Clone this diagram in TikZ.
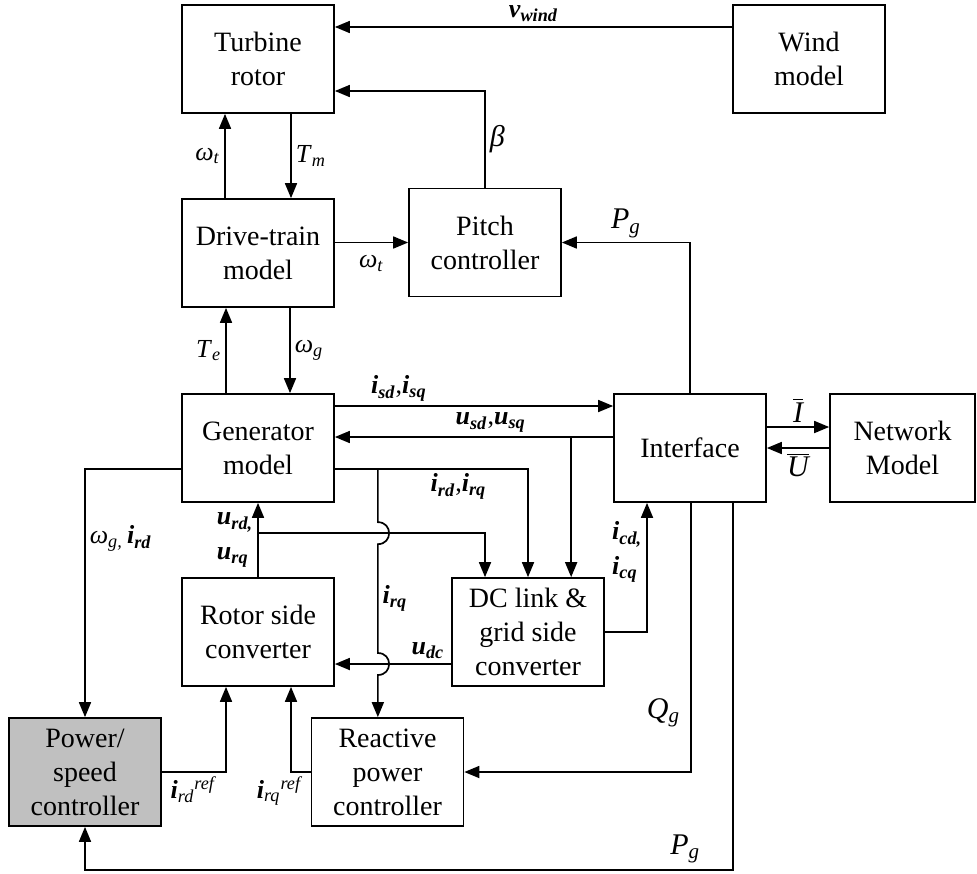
\documentclass[tikz,border=0pt]{standalone}
\usepackage{fontspec}
\setmainfont{Liberation Serif}
\usetikzlibrary{arrows.meta,positioning,calc}

\definecolor{ctrlgray}{RGB}{192,192,192}
\newcommand{\sig}[2]{\textit{#1}\textsubscript{\textit{#2}}}
\newcommand{\bsig}[2]{\textbf{\textit{#1}\textsubscript{\textit{#2}}}}
\newcommand{\refsig}[2]{\textbf{\textit{#1}}\textsubscript{\textit{#2}}\textsuperscript{\textit{ref}}}

\tikzset{
  blk/.style={draw, line width=0.85pt, minimum width=76pt, minimum height=54pt,
    inner sep=0pt, align=center, font=\fontsize{14}{17}\selectfont},
  arr/.style={-{Triangle[length=7.5pt,width=6pt]}, line width=0.85pt},
  lab/.style={font=\fontsize{13}{15}\selectfont, inner sep=2pt},
  twolab/.style={font=\fontsize{13}{17.5}\selectfont, inner sep=2pt, align=left},
  biglab/.style={font=\fontsize{15}{17}\selectfont, inner sep=2pt}
}

\begin{document}
\begin{tikzpicture}[x=0.5pt, y=-0.5pt]
    \useasboundingbox (0,0) rectangle (977,873);

    % Blocks
    \node[blk] (turb) at (258,59) {Turbine\\rotor};
    \node[blk] (wind) at (809,59) {Wind\\model};
    \node[blk] (drive) at (258,253) {Drive-train\\model};
    \node[blk] (pitch) at (485,242.5) {Pitch\\controller};
    \node[blk] (gen) at (258,448) {Generator\\model};
    \node[blk] (intf) at (690,448) {Interface};
    \node[blk, minimum width=72.5pt] (net) at (902.5,448) {Network\\Model};
    \node[blk] (rsc) at (258,632) {Rotor side\\converter};
    \node[blk] (dcl) at (528,632) {DC link \&\\grid side\\converter};
    \node[blk, fill=ctrlgray] (psc) at (85,772) {Power/\\speed\\controller};
    \node[blk] (rpc) at (387.5,772) {Reactive\\power\\controller};

    % Mechanical side
    \draw[arr] ([yshift=16pt]wind.west) -- node[lab, above]{\bsig{v}{wind}} ([yshift=16pt]turb.east);
    \draw[arr] (pitch.north) |- node[biglab, pos=0.25, right]{\textit{β}} ([yshift=-16pt]turb.east);
    \draw[arr] ([xshift=-16.5pt]drive.north) -- node[lab, left]{\sig{ω}{t}} ([xshift=-16.5pt]turb.south);
    \draw[arr] ([xshift=16.5pt]turb.south) -- node[lab, right]{\sig{T}{m}} ([xshift=16.5pt]drive.north);
    \draw[arr] (drive.east |- pitch.west) -- node[lab, below, yshift=-4pt]{\sig{ω}{t}} (pitch.west);
    \draw[arr] (intf.north) |- node[biglab, pos=0.75, above]{\sig{P}{g}} (pitch.east);
    \draw[arr] ([xshift=-16pt]gen.north) -- node[lab, left]{\sig{T}{e}} ([xshift=-16pt]drive.south);
    \draw[arr] ([xshift=16pt]drive.south) -- node[lab, right]{\sig{ω}{g}} ([xshift=16pt]gen.north);

    % Stator and network
    \draw[arr] ([yshift=21pt]gen.east) -- node[lab, above, pos=0.23]{\bsig{i}{sd},\bsig{i}{sq}} ([yshift=21pt]intf.west);
    \coordinate (usdj) at ([xshift=-21pt,yshift=5.5pt]intf.west);
    \draw[arr] ([yshift=5.5pt]intf.west) -- node[lab, above, pos=0.44]{\bsig{u}{sd},\bsig{u}{sq}} ([yshift=5.5pt]gen.east);
    \draw[arr] (usdj) -- (usdj |- dcl.north);
    \draw[arr] ([yshift=10.5pt]intf.east) -- node[biglab, above]{$\overline{\textit{I}}$} ([yshift=10.5pt]net.west);
    \draw[arr] (net.west) -- node[biglab, below]{$\overline{\textit{U}}$} (intf.east);

    % Rotor currents and voltages
    \coordinate (irdj) at ([yshift=-10.5pt]gen.east);
    \coordinate (irqj) at ([xshift=21.5pt]irdj);
    \coordinate (urdj) at ([yshift=22pt]rsc.north);
    \coordinate (udcl) at ([yshift=-16pt]dcl.west);
    \draw[arr] (irdj) -| node[lab, pos=0.32, below]{\bsig{i}{rd},\bsig{i}{rq}} (dcl.north);
    \draw[arr] (irqj) -- ($(irqj |- urdj)+(0,-11)$)
        .. controls +(15,0) and +(15,0) .. ($(irqj |- urdj)+(0,11)$)
        -- node[lab, right]{\bsig{i}{rq}} ($(irqj |- udcl)+(0,-11)$)
        .. controls +(15,0) and +(15,0) .. ($(irqj |- udcl)+(0,11)$)
        -- (irqj |- rpc.north);
    \draw[arr] ([yshift=-10.5pt]gen.west) -| node[lab, pos=0.64, right]{\sig{ω}{g,}\,\bsig{i}{rd}} (psc.north);
    \draw[arr] (rsc.north) -- node[twolab, left]{\bsig{u}{rd,}\\\bsig{u}{rq}} (gen.south);
    \draw[arr] (urdj) -| ([xshift=-21.5pt]dcl.north);
    \draw[arr] (dcl.east) -| node[twolab, pos=0.81, left]{\bsig{i}{cd,}\\\bsig{i}{cq}} ([xshift=-21.5pt]intf.south);
    \draw[arr] (udcl) -- node[lab, above, pos=0.2]{\bsig{u}{dc}} (udcl -| rsc.east);

    % Controllers
    \draw[arr] (psc.east) -| node[lab, pos=0.25, below]{\refsig{i}{rd}} ([xshift=-16pt]rsc.south);
    \draw[arr] (rpc.west) -| node[lab, pos=0.5, below, xshift=-5.5pt]{\refsig{i}{rq}} ([xshift=16.5pt]rsc.south);
    \draw[arr] ([xshift=0.5pt]intf.south) |- node[biglab, pos=0.39, left, xshift=-3pt]{\sig{Q}{g}} (rpc.east);
    \coordinate (pbot) at ([yshift=-21.5pt]psc.south);
    \draw[arr] ([xshift=21.5pt]intf.south) |- node[biglab, pos=0.5, anchor=south east, xshift=-14pt, yshift=1pt]{\sig{P}{g}} (pbot) -- (psc.south);
\end{tikzpicture}
\end{document}
